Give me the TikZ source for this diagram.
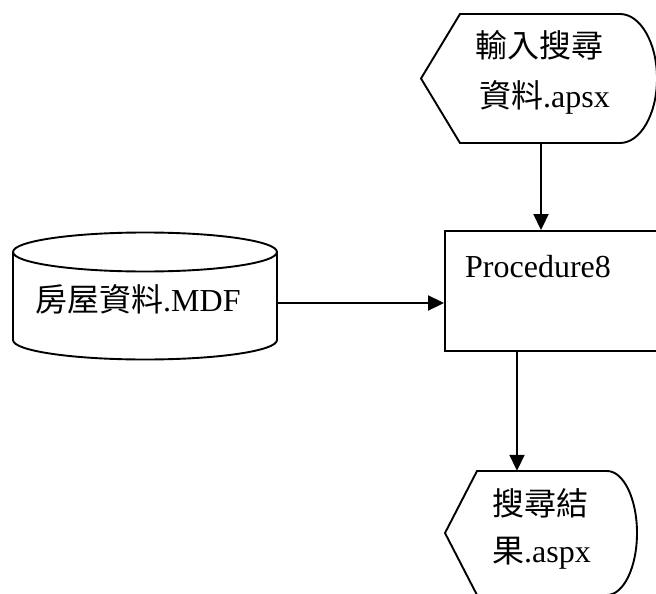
\documentclass[tikz,border=0pt]{standalone}
\usepackage{fontspec}
\setmainfont{Liberation Serif}
\newfontfamily\cjk{Noto Sans CJK TC}
\usetikzlibrary{arrows.meta}
\begin{document}
\begin{tikzpicture}[x=1pt,y=-1pt,
  shapeline/.style={draw=black,line width=1.9pt,line join=miter},
  conn/.style={draw=black,line width=1.9pt,-{Triangle[length=16pt,width=15pt]}},
  lbl/.style={inner sep=0pt,anchor=base west,font=\fontsize{32}{38}\selectfont}]
\useasboundingbox (0,0) rectangle (656,594);
\clip (0,0) rectangle (656,594);
\fill[white] (0,0) rectangle (656,594);
% input display
\draw[shapeline] (460,14) -- (620,14) arc[start angle=-90,end angle=90,x radius=37,y radius=64.5] -- (460,143) -- (421,78.5) -- cycle;
\node[inner sep=0pt,minimum width=236pt,minimum height=129pt] (in) at (539,78.5) {};
\coordinate (inb) at (541,143);
\node[lbl] (inA) at (475,58) {\cjk 輸入搜尋};
\node[lbl] (inB) at (479,107) {{\cjk 資料}.apsx};
% process
\node[shapeline,inner sep=0pt,minimum width=240pt,minimum height=120pt] (proc) at (565,291) {};
\node[lbl] (procT) at (465,277) {Procedure8};
% database cylinder
\draw[shapeline] (13,252) -- (13,340) arc[start angle=180,end angle=0,x radius=132,y radius=19.5] -- (277,252);
\draw[shapeline] (145,252) ellipse[x radius=132,y radius=19.5];
\node[inner sep=0pt,minimum width=264pt,minimum height=127pt] (db) at (145,303) {};
\node[lbl] (dbT) at (35,311) {{\cjk 房屋資料}.MDF};
% output display
\draw[shapeline] (477,471) -- (607,471) arc[start angle=-90,end angle=90,x radius=30,y radius=62] -- (477,595) -- (445,533) -- cycle;
\node[inner sep=0pt,minimum width=192pt,minimum height=124pt] (out) at (541,533) {};
\coordinate (procb) at (517,351);
\node[lbl] (outA) at (492,515) {\cjk 搜尋結};
\node[lbl] (outB) at (492,562) {{\cjk 果}.aspx};
% connectors
\draw[conn] (inb) -- (inb |- proc.north);
\draw[conn] (db.east) -- (db.east -| proc.west);
\draw[conn] (procb) -- (procb |- out.north);
\end{tikzpicture}
\end{document}
